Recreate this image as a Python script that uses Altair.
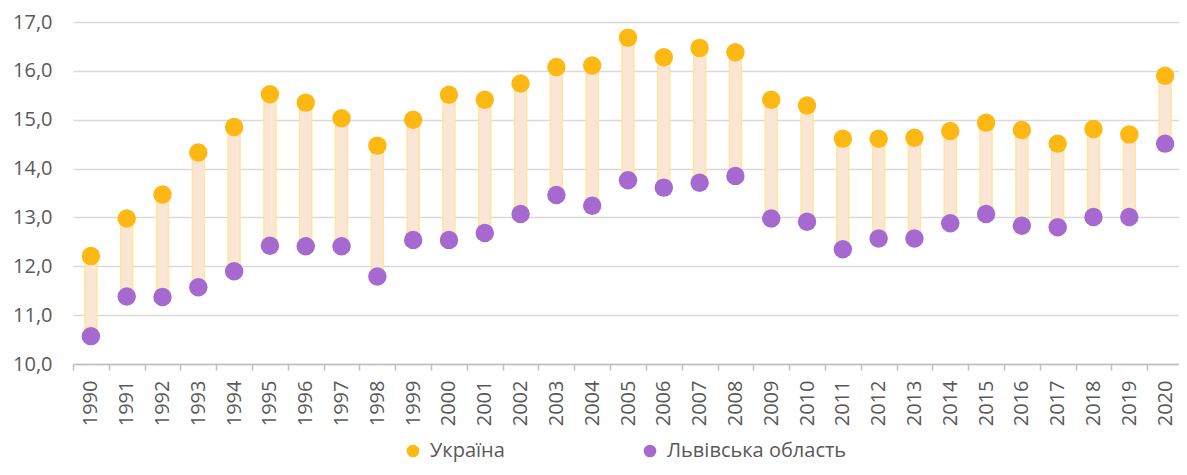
import altair as alt
import pandas as pd

years = [str(y) for y in range(1990, 2021)]
ukraine = [12.21, 12.98, 13.47, 14.33, 14.85, 15.52, 15.35, 15.03, 14.47, 15.00,
           15.51, 15.41, 15.74, 16.08, 16.11, 16.68, 16.28, 16.47, 16.38, 15.41,
           15.29, 14.61, 14.61, 14.63, 14.77, 14.94, 14.79, 14.51, 14.81, 14.70, 15.90]
lviv = [10.57, 11.38, 11.37, 11.57, 11.90, 12.42, 12.41, 12.41, 11.79, 12.54,
        12.54, 12.68, 13.07, 13.46, 13.24, 13.76, 13.61, 13.71, 13.85, 12.98,
        12.91, 12.35, 12.57, 12.57, 12.88, 13.07, 12.83, 12.80, 13.01, 13.01, 14.51]
series_names = ["Україна", "Львівська область"]
series_colors = ["#FDB813", "#A569CF"]

wide = pd.DataFrame({"year": years, "ua": ukraine, "lv": lviv})
long = pd.DataFrame({
    "year": years * 2,
    "series": [series_names[0]] * len(years) + [series_names[1]] * len(years),
    "value": ukraine + lviv,
})

FONT = "Open Sans"
TXT = "#595959"

xscale = alt.Scale(domain=years, range=[0, 1110], paddingInner=0, paddingOuter=0)
yscale = alt.Scale(domain=[10, 17], nice=False, zero=False)

x_axis = alt.Axis(
    title=None, labelAngle=-90, labelFontSize=20, labelFont=FONT, labelColor=TXT,
    labelPadding=10, tickSize=6, tickBand="extent", tickColor="#BFBFBF",
    tickWidth=1.5, domainColor="#BFBFBF", domainWidth=1.5, grid=False,
)
y_axis = alt.Axis(
    title=None, values=[10, 11, 12, 13, 14, 15, 16, 17],
    labelExpr="replace(format(datum.value, '.1f'), '.', ',')",
    labelFontSize=20, labelFont=FONT, labelColor=TXT, labelPadding=21,
    ticks=False, domain=False, grid=True, gridColor="#D9D9D9", gridWidth=1.5,
)

bars = alt.Chart(wide).mark_bar(
    size=12, fill="#FBE5D6", stroke="#FFE699", strokeWidth=1.5
).encode(
    x=alt.X("year:O", scale=xscale, axis=x_axis),
    y=alt.Y("lv:Q", scale=yscale, axis=y_axis),
    y2="ua:Q",
)

points = alt.Chart(long).mark_circle(size=340, opacity=1).encode(
    x=alt.X("year:O", scale=xscale),
    y=alt.Y("value:Q", scale=yscale),
    color=alt.Color(
        "series:N",
        scale=alt.Scale(domain=series_names, range=series_colors),
        legend=alt.Legend(
            title=None, orient="none", legendX=330, legendY=419,
            direction="horizontal", symbolType="circle", symbolSize=160,
            labelFontSize=20, labelFont=FONT, labelColor=TXT, labelLimit=0,
            columnPadding=135, labelOffset=7, padding=0, symbolStrokeWidth=0,
            symbolOpacity=1,
        ),
    ),
    order=alt.Order("order:Q"),
).transform_calculate(order="datum.series == 'Україна' ? 0 : 1")

chart = alt.layer(bars, points).properties(
    width=1106, height=342,
    autosize=alt.AutoSizeParams(type="none"),
    padding={"left": 65, "top": 14, "right": 0, "bottom": 99},
).configure_view(stroke=None)

chart.save("out.html", embed_options={"renderer": "svg", "actions": False})
